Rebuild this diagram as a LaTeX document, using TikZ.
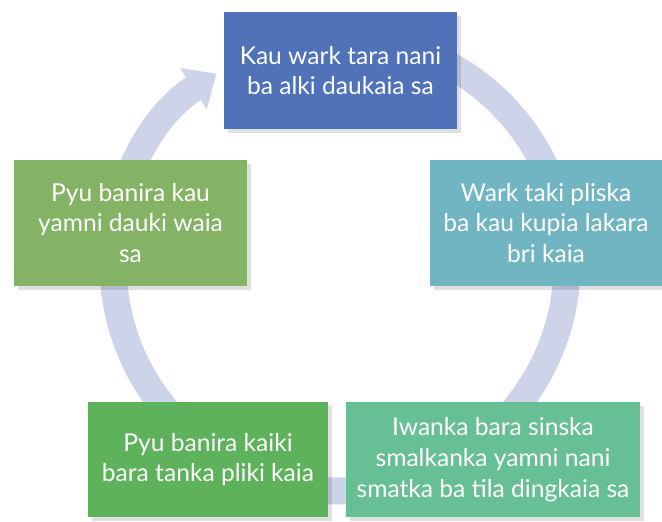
\documentclass[tikz,border=0pt]{standalone}
\usepackage{fontspec}
\setmainfont{Lato}
\usepackage{tikz}
\usetikzlibrary{arrows.meta,calc,shadows}

\definecolor{ringcol}{RGB}{205,211,232}
\definecolor{stepblue}{RGB}{79,114,184}
\definecolor{stepteal}{RGB}{114,181,194}
\definecolor{stepolive}{RGB}{132,179,101}
\definecolor{stepgreen}{RGB}{93,178,91}
\definecolor{stepmint}{RGB}{103,191,149}

\begin{document}
\begin{tikzpicture}[x=0.02cm, y=0.02cm,
        stage/.style={align=center, font=\fontsize{14}{17.5}\selectfont, text=white, inner sep=0pt,
          drop shadow={shadow xshift=2pt, shadow yshift=-2pt, opacity=0.12, fill=black}},
        ring/.style={draw=ringcol, line width=0.54cm, -{Triangle[width=0.95cm, length=0.55cm]}}
      ]
      \useasboundingbox (0,0) rectangle (662,521);

      % cycle ring behind the boxes
      \coordinate (hub) at (340,257);
      \draw[ring] ($(hub)+(100:4.54cm)$) arc[start angle=100, end angle=-237, radius=4.54cm];

      \node[stage, fill=stepblue, minimum width=233*0.02cm, minimum height=117*0.02cm] (plan) at (340.5,450.5)
        {Kau wark tara nani\\ba alki daukaia sa};
      \node[stage, fill=stepteal, minimum width=232*0.02cm, minimum height=126*0.02cm] (check) at (546,298)
        {Wark taki pliska\\ba kau kupia lakara\\bri kaia};
      \node[stage, fill=stepmint, minimum width=294*0.02cm, minimum height=115*0.02cm] (talk) at (493,61.5)
        {Iwanka bara sinska\\smalkanka yamni nani\\smatka ba tila dingkaia sa};
      \node[stage, fill=stepgreen, minimum width=240*0.02cm, minimum height=115*0.02cm] (mark) at (208,61.5)
        {Pyu banira kaiki\\bara tanka pliki kaia};
      \node[stage, fill=stepolive, minimum width=233*0.02cm, minimum height=126*0.02cm] (ready) at (130.5,298)
        {Pyu banira kau\\yamni dauki waia\\sa};
    \end{tikzpicture}
\end{document}
